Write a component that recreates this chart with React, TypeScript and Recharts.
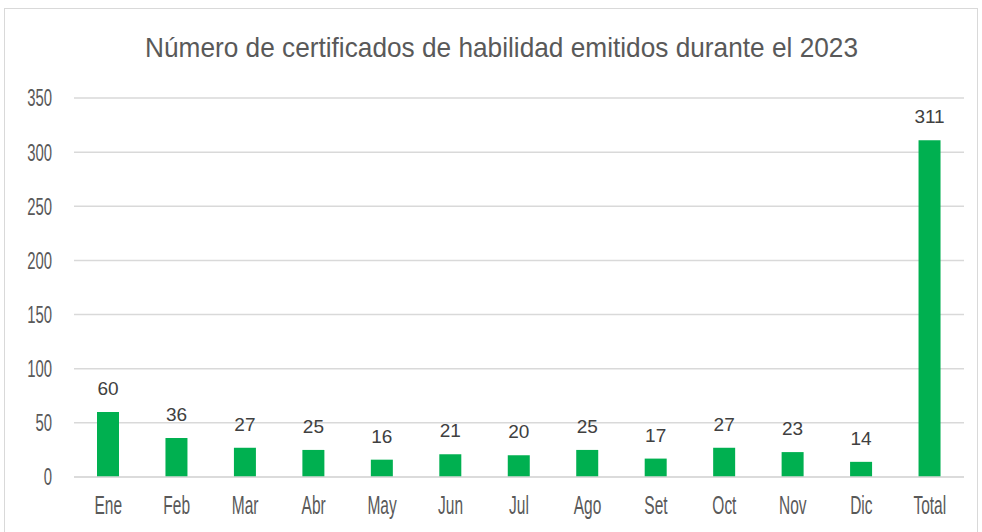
import { BarChart, Bar, XAxis, YAxis, CartesianGrid, LabelList } from 'recharts'

// Meses y cantidad de certificados emitidos
const months = ['Ene', 'Feb', 'Mar', 'Abr', 'May', 'Jun', 'Jul', 'Ago', 'Set', 'Oct', 'Nov', 'Dic', 'Total']
const certificados = [60, 36, 27, 25, 16, 21, 20, 25, 17, 27, 23, 14, 311]
const yTicks = [0, 50, 100, 150, 200, 250, 300, 350]

const title = 'Número de certificados de habilidad emitidos durante el 2023'

const data = months.map((m, i) => ({ mes: m, valor: certificados[i] }))

const tickFont = "'Liberation Sans', Arial, sans-serif"

// ticks con letra angosta (estilo Agency FB)
const XTick = (props: any) => {
  const { x, y, payload } = props
  return (
    <text
      transform={`translate(${x},${y}) scale(0.62,1)`}
      textAnchor="middle"
      dominantBaseline="central"
      fill="#595959"
      fontSize={25}
      fontFamily={tickFont}
    >
      {payload.value}
    </text>
  )
}

const YTick = (props: any) => {
  const { x, y, payload } = props
  return (
    <text
      transform={`translate(${x},${y}) scale(0.62,1)`}
      textAnchor="end"
      dominantBaseline="central"
      fill="#595959"
      fontSize={24}
      fontFamily={tickFont}
    >
      {payload.value}
    </text>
  )
}

export default function App() {
  return (
    <div style={{ position: 'absolute', left: 0, top: 0, width: 982, height: 532, background: '#fff' }}>
      <div
        style={{
          position: 'absolute',
          left: 4,
          top: 8,
          width: 974,
          height: 530,
          border: '1px solid #d9d9d9',
          boxSizing: 'border-box',
        }}
      />
      <svg style={{ position: 'absolute', left: 0, top: 0 }} width={982} height={80}>
        <text
          x={145}
          y={57}
          textLength={713}
          lengthAdjust="spacingAndGlyphs"
          fill="#595959"
          fontSize={28}
          fontFamily="'Liberation Sans', Arial, sans-serif"
        >
          {title}
        </text>
      </svg>
      <div style={{ position: 'absolute', left: 0, top: 0 }}>
        <BarChart
          width={982}
          height={532}
          data={data}
          margin={{ top: 98, right: 18, bottom: 0, left: 0 }}
          barCategoryGap={0}
        >
          <CartesianGrid vertical={false} stroke="#d9d9d9" strokeWidth={1.5} />
          <XAxis
            dataKey="mes"
            height={55}
            axisLine={{ stroke: '#d9d9d9', strokeWidth: 1.5 }}
            tickLine={false}
            tickSize={0}
            tickMargin={28}
            interval={0}
            tick={<XTick />}
          />
          <YAxis
            width={74}
            domain={[0, 350]}
            ticks={yTicks}
            axisLine={false}
            tickLine={false}
            tickSize={0}
            tickMargin={22}
            tick={<YTick />}
          />
          <Bar dataKey="valor" fill="#00b050" barSize={22} isAnimationActive={false}>
            <LabelList
              dataKey="valor"
              position="top"
              offset={17}
              fill="#404040"
              fontSize={19}
              fontFamily="'Liberation Sans', Arial, sans-serif"
            />
          </Bar>
        </BarChart>
      </div>
    </div>
  )
}
